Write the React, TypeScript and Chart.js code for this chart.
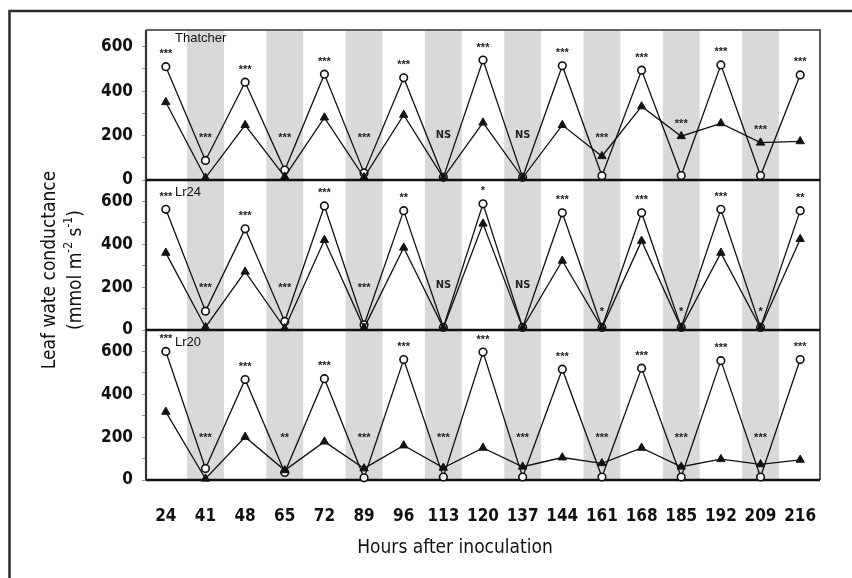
import React, { useEffect, useRef } from 'react';
import { Chart, registerables } from 'chart.js';

Chart.register(...registerables);

// ---------- data ----------
const categories = ['24', '41', '48', '65', '72', '89', '96', '113', '120', '137', '144', '161', '168', '185', '192', '209', '216'];
const yTickValues = [0, 100, 200, 300, 400, 500, 600];

const thatcherOpen = [510, 88, 440, 45, 476, 32, 460, 12, 540, 12, 514, 19, 494, 20, 518, 20, 473];
const thatcherFilled = [350, 10, 247, 15, 281, 12, 293, 10, 258, 10, 247, 107, 331, 197, 255, 168, 174];
const thatcherSig = ['***', '***', '***', '***', '***', '***', '***', 'NS', '***', 'NS', '***', '***', '***', '***', '***', '***', '***'];

const lr24Open = [563, 88, 472, 40, 579, 24, 557, 12, 589, 12, 547, 12, 547, 12, 563, 12, 557];
const lr24Filled = [360, 13, 272, 8, 420, 10, 384, 10, 496, 10, 323, 10, 416, 10, 360, 10, 424];
const lr24Sig = ['***', '***', '***', '***', '***', '***', '**', 'NS', '*', 'NS', '***', '*', '***', '*', '***', '*', '**'];

const lr20Open = [600, 54, 469, 35, 473, 10, 562, 14, 597, 14, 517, 14, 522, 14, 557, 14, 562];
const lr20Filled = [318, 6, 201, 45, 179, 54, 161, 57, 150, 62, 105, 78, 150, 62, 97, 73, 94];
const lr20Sig = ['***', '***', '***', '**', '***', '***', '***', '***', '***', '***', '***', '***', '***', '***', '***', '***', '***'];

const panelNames = ['Thatcher', 'Lr24', 'Lr20'];

const FONT = "'Liberation Sans Narrow', 'DejaVu Sans Condensed', 'Arial Narrow', sans-serif";
const SMALL_FONT = "'Liberation Sans', Arial, sans-serif";

export default function App() {
  const ref = useRef<HTMLCanvasElement>(null);

  useEffect(() => {
    document.body.style.margin = '0';
    const canvas = ref.current;
    if (!canvas) return;

    const panels = [
      { id: 'y1', name: panelNames[0], open: thatcherOpen, filled: thatcherFilled, sig: thatcherSig, max: 675 },
      { id: 'y2', name: panelNames[1], open: lr24Open, filled: lr24Filled, sig: lr24Sig, max: 700 },
      { id: 'y3', name: panelNames[2], open: lr20Open, filled: lr20Filled, sig: lr20Sig, max: 700 },
    ];

    const datasets: any[] = [];
    panels.forEach((p) => {
      datasets.push({
        label: p.name + ' filled',
        data: p.filled,
        yAxisID: p.id,
        borderColor: '#111',
        borderWidth: 1.3,
        pointStyle: 'triangle',
        pointRadius: 4.8,
        pointBackgroundColor: '#111',
        pointBorderColor: '#111',
        pointBorderWidth: 1,
        tension: 0,
        clip: false,
      });
    });
    panels.forEach((p) => {
      datasets.push({
        label: p.name + ' open',
        data: p.open,
        yAxisID: p.id,
        borderColor: '#111',
        borderWidth: 1.3,
        pointStyle: 'circle',
        pointRadius: 3.8,
        pointBackgroundColor: '#fff',
        pointBorderColor: '#111',
        pointBorderWidth: 1.6,
        tension: 0,
        clip: false,
      });
    });

    const yScale = (max: number) => ({
      type: 'linear',
      position: 'left',
      stack: 'panels',
      stackWeight: 1,
      min: 0,
      max,
      afterBuildTicks: (s: any) => {
        s.ticks = yTickValues.map((v) => ({ value: v }));
      },
      afterFit: (s: any) => {
        s.width = 146;
      },
      ticks: {
        autoSkip: false,
        callback: (v: any) => (Number(v) % 200 === 0 ? String(v) : ''),
        font: { family: FONT, size: 17, weight: 'bold' },
        color: '#111',
        padding: 9,
      },
      grid: { drawOnChartArea: false, drawTicks: true, tickLength: 4, color: '#999' },
      border: { display: false },
    });

    const decor = {
      id: 'decor',
      beforeDraw(chart: any) {
        const { ctx, width, height } = chart;
        ctx.save();
        ctx.fillStyle = '#fff';
        ctx.fillRect(0, 0, width, height);
        ctx.strokeStyle = '#2a2a2a';
        ctx.lineWidth = 2.5;
        ctx.beginPath();
        ctx.moveTo(9.5, height + 5);
        ctx.lineTo(9.5, 11);
        ctx.lineTo(width + 5, 11);
        ctx.stroke();
        ctx.restore();
      },
      beforeDatasetsDraw(chart: any) {
        const { ctx, chartArea } = chart;
        const xs = chart.scales.x;
        const step = xs.getPixelForValue(1) - xs.getPixelForValue(0);
        ctx.save();
        ctx.fillStyle = '#d9d9d9';
        categories.forEach((_, i) => {
          if (i % 2 === 1) {
            const cx = xs.getPixelForValue(i);
            ctx.fillRect(cx - step * 0.465, chartArea.top, step * 0.93, chartArea.bottom - chartArea.top);
          }
        });
        // frame
        ctx.strokeStyle = '#333';
        ctx.lineWidth = 1.6;
        ctx.beginPath();
        ctx.moveTo(chartArea.left, chartArea.top);
        ctx.lineTo(chartArea.right, chartArea.top);
        ctx.lineTo(chartArea.right, chartArea.bottom);
        ctx.stroke();
        ctx.lineWidth = 2.2;
        ctx.beginPath();
        ctx.moveTo(chartArea.left, chartArea.top);
        ctx.lineTo(chartArea.left, chartArea.bottom);
        ctx.stroke();
        // zero lines
        ctx.strokeStyle = '#111';
        ctx.lineWidth = 2.6;
        panels.forEach((p) => {
          const s = chart.scales[p.id];
          const y0 = s.getPixelForValue(0);
          ctx.beginPath();
          ctx.moveTo(chartArea.left, y0);
          ctx.lineTo(chartArea.right, y0);
          ctx.stroke();
        });
        ctx.restore();
      },
      afterDatasetsDraw(chart: any) {
        const { ctx, chartArea } = chart;
        const xs = chart.scales.x;
        ctx.save();
        ctx.fillStyle = '#222';
        ctx.textAlign = 'center';
        ctx.textBaseline = 'alphabetic';
        panels.forEach((p) => {
          const s = chart.scales[p.id];
          const zero = s.getPixelForValue(0);
          p.sig.forEach((txt, i) => {
            const top = Math.min(s.getPixelForValue(p.open[i]), s.getPixelForValue(p.filled[i]));
            const y = Math.min(top - 16, zero - (txt === '*' ? 22 : 46));
            const x = xs.getPixelForValue(i);
            if (txt === 'NS') {
              ctx.font = "bold 11px " + FONT;
              ctx.fillText(txt, x, y + 4);
            } else {
              ctx.font = "bold 11px " + SMALL_FONT;
              ctx.fillText(txt, x, y + 6.5);
            }
          });
          // panel name
          ctx.font = "13px " + SMALL_FONT;
          ctx.textAlign = 'left';
          ctx.textBaseline = 'middle';
          ctx.fillStyle = '#111';
          ctx.fillText(p.name, chartArea.left + 29, s.top + (p.id === 'y1' ? 8 : 12));
          ctx.textAlign = 'center';
          ctx.textBaseline = 'alphabetic';
          ctx.fillStyle = '#222';
        });
        ctx.restore();
      },
      afterDraw(chart: any) {
        const { ctx } = chart;
        ctx.save();
        ctx.fillStyle = '#111';
        ctx.textBaseline = 'middle';
        ctx.textAlign = 'center';
        // x title
        ctx.font = "19px " + FONT;
        ctx.fillText('Hours after inoculation', 455, 548);
        // y title
        ctx.translate(50, 270);
        ctx.rotate(-Math.PI / 2);
        ctx.fillText('Leaf wate conductance', 0, 0);
        // second line with superscripts
        const big = "19px " + FONT;
        const sup = "12px " + FONT;
        const parts: [string, boolean][] = [['(mmol m', false], ['-2', true], [' s', false], ['-1', true], [')', false]];
        let total = 0;
        const widths = parts.map(([t, s]) => {
          ctx.font = s ? sup : big;
          const w = ctx.measureText(t).width;
          total += w;
          return w;
        });
        let cx = -total / 2;
        ctx.textAlign = 'left';
        parts.forEach(([t, s], i) => {
          ctx.font = s ? sup : big;
          ctx.fillText(t, cx, s ? 26 - 7 : 26);
          cx += widths[i];
        });
        ctx.restore();
      },
    };

    const chart = new Chart(canvas, {
      type: 'line',
      data: { labels: categories, datasets },
      options: {
        responsive: false,
        animation: false,
        layout: { padding: { top: 30, right: 32, left: 0, bottom: 0 } },
        plugins: { legend: { display: false }, tooltip: { enabled: false } },
        scales: {
          x: {
            type: 'category',
            offset: true,
            grid: { display: false },
            border: { display: false },
            ticks: {
              autoSkip: false,
              maxRotation: 0,
              font: { family: FONT, size: 17, weight: 'bold' },
              color: '#111',
              padding: 18,
            },
            afterFit: (s: any) => {
              s.height = 98;
            },
          },
          // left stacked axes are laid out last-defined-on-top, so define bottom panel first
          y3: yScale(panels[2].max),
          y2: yScale(panels[1].max),
          y1: yScale(panels[0].max),
        } as any,
      },
      plugins: [decor],
    } as any);

    return () => chart.destroy();
  }, []);

  return <canvas ref={ref} width={852} height={578} style={{ display: 'block' }} />;
}
